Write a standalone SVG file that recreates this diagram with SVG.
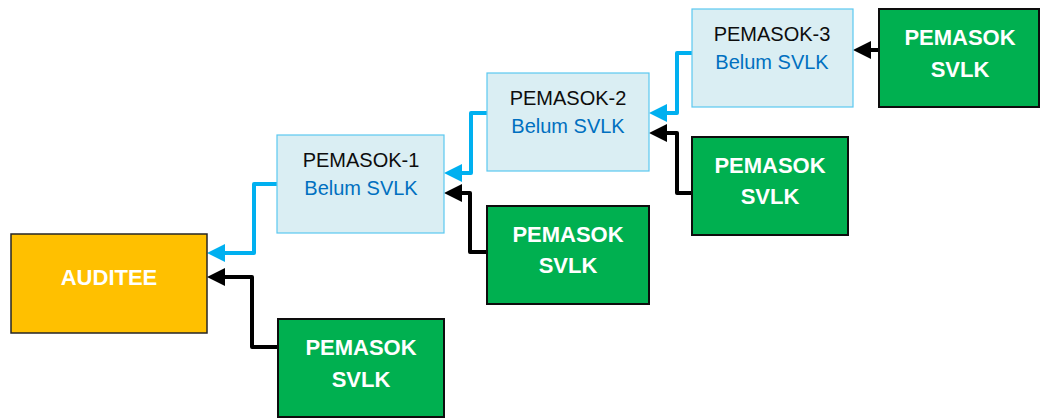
<svg xmlns="http://www.w3.org/2000/svg" width="1041" height="419" viewBox="0 0 1041 419">
<style>
.aud{fill:#FFC000;stroke:#262626;stroke-width:1.5}
.grn{fill:#00B050;stroke:#0D0D0D;stroke-width:2}
.pem{fill:#DAEEF3;stroke:#5BC8F0;stroke-width:1.2}
.wt{font-family:"Liberation Sans",Arial,sans-serif;font-weight:bold;font-size:22px;fill:#FFFFFF;text-anchor:middle}
.bk{font-family:"Liberation Sans",Arial,sans-serif;font-size:20px;fill:#0D0D0D;text-anchor:middle}
.bl{font-family:"Liberation Sans",Arial,sans-serif;font-size:20px;fill:#0070C0;text-anchor:middle}
.cb{fill:none;stroke:#00B0F0;stroke-width:4;stroke-linejoin:round;marker-end:url(#ab)}
.ck{fill:none;stroke:#000000;stroke-width:4;stroke-linejoin:round;marker-end:url(#ak)}
</style>
<defs>
<marker id="ab" markerUnits="userSpaceOnUse" viewBox="0 0 18 18" refX="0" refY="9" markerWidth="18" markerHeight="18" orient="auto"><path d="M0,0 L18,9 L0,18 z" fill="#00B0F0"/></marker>
<marker id="ak" markerUnits="userSpaceOnUse" viewBox="0 0 18 18" refX="0" refY="9" markerWidth="18" markerHeight="18" orient="auto"><path d="M0,0 L18,9 L0,18 z" fill="#000000"/></marker>
</defs>
<g id="connectors">
<path class="cb" d="M278,184 H254 V253 H225"/>
<path class="ck" d="M278,347 H252 V277 H225"/>
<path class="cb" d="M487,113 H471 V173 H462"/>
<path class="ck" d="M487,252 H470 V193 H462"/>
<path class="cb" d="M692,53 H677 V113 H667"/>
<path class="ck" d="M692,193 H677 V133 H667"/>
<path class="ck" d="M879,50 H871"/>
</g>
<g id="auditee">
<rect class="aud" x="11" y="234" width="196" height="99"/>
<text class="wt" x="109" y="285">AUDITEE</text>
</g>
<g id="svlk-1">
<rect class="grn" x="278" y="319" width="166" height="98"/>
<text class="wt" x="361" y="355">PEMASOK</text>
<text class="wt" x="361" y="387">SVLK</text>
</g>
<g id="pemasok-1">
<rect class="pem" x="277" y="135" width="167" height="98"/>
<text class="bk" x="361" y="167">PEMASOK-1</text>
<text class="bl" x="361" y="195">Belum SVLK</text>
</g>
<g id="svlk-2">
<rect class="grn" x="487" y="206" width="162" height="98"/>
<text class="wt" x="568" y="242">PEMASOK</text>
<text class="wt" x="568" y="273">SVLK</text>
</g>
<g id="pemasok-2">
<rect class="pem" x="487" y="73" width="162" height="98"/>
<text class="bk" x="568" y="105">PEMASOK-2</text>
<text class="bl" x="568" y="133">Belum SVLK</text>
</g>
<g id="svlk-3">
<rect class="grn" x="692" y="137" width="156" height="98"/>
<text class="wt" x="770" y="173">PEMASOK</text>
<text class="wt" x="770" y="204">SVLK</text>
</g>
<g id="pemasok-3">
<rect class="pem" x="692" y="9" width="161" height="98"/>
<text class="bk" x="772" y="41">PEMASOK-3</text>
<text class="bl" x="772" y="69">Belum SVLK</text>
</g>
<g id="svlk-4">
<rect class="grn" x="879" y="9" width="160" height="98"/>
<text class="wt" x="960" y="45">PEMASOK</text>
<text class="wt" x="960" y="77">SVLK</text>
</g>
</svg>
